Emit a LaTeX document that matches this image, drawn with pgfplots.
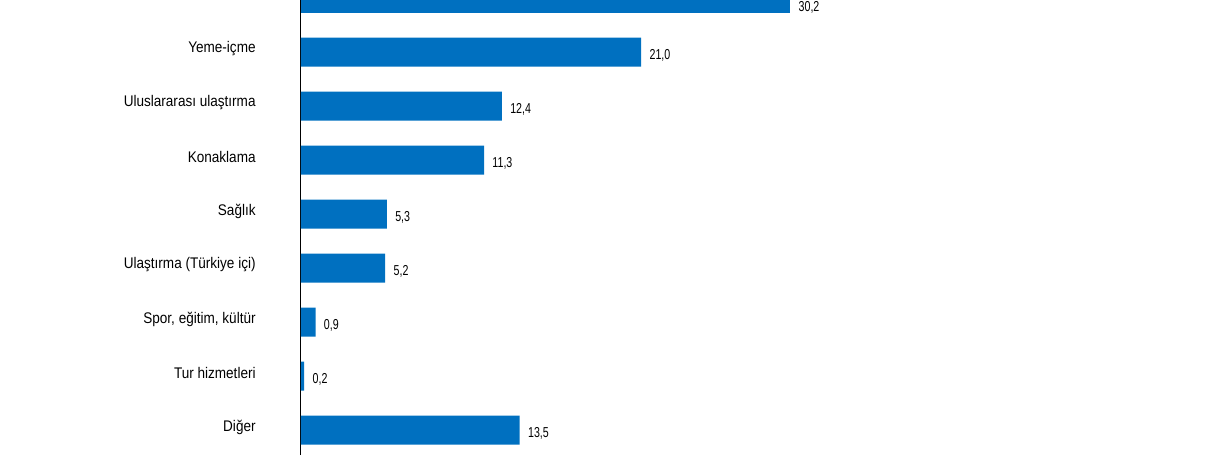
\documentclass[border=0pt]{standalone}
\usepackage{fontspec}
\setmainfont{Liberation Sans}
\newfontfamily\lblfont[FakeStretch=0.88]{Liberation Sans}
\newfontfamily\valfont[FakeStretch=0.74]{Liberation Sans}
\usepackage{pgfplots}
\pgfplotsset{compat=1.18}
\definecolor{barblue}{HTML}{0070C0}
\begin{document}
\begin{tikzpicture}
\begin{axis}[
  scale only axis,
  width=457.5pt, height=227.5pt,
  xmin=0, xmax=56.48,
  ymin=-0.463, ymax=7.963,
  clip=false,
  xbar, bar width=14.5pt, bar shift=0pt,
  axis x line=none,
  axis y line*=left,
  y axis line style={-, black, line width=0.5pt},
  ytick={0,...,8},
  yticklabels={Diğer, Tur hizmetleri, {Spor, eğitim, kültür}, Ulaştırma (Türkiye içi), Sağlık, Konaklama, Uluslararası ulaştırma, Yeme-içme, {}},
  yticklabel style={font=\lblfont\fontsize{7.7}{9}\selectfont, anchor=east, inner sep=0pt, xshift=-22.5pt, yshift=1.5pt},
  major tick length=0pt,
  /pgf/number format/assume math mode=true,
  /pgf/number format/fixed,
  /pgf/number format/fixed zerofill,
  /pgf/number format/precision=1,
  /pgf/number format/use comma,
  nodes near coords,
  nodes near coords style={font=\valfont\fontsize{7.2}{8}\selectfont, text=black, anchor=west, inner sep=0pt, xshift=4pt, yshift=-1.5pt},
]
\addplot[fill=barblue, draw=none] coordinates {
  (13.5,0) (0.2,1) (0.9,2) (5.2,3) (5.3,4) (11.3,5) (12.4,6) (21.0,7)
};
\addplot[fill=barblue, draw=none, nodes near coords style={yshift=-3pt}] coordinates {
  (30.2,8)
};
\end{axis}
\pgfresetboundingbox
\path[use as bounding box] ([xshift=-150.5pt]current axis.south west) rectangle (current axis.north east);
\end{tikzpicture}
\end{document}
